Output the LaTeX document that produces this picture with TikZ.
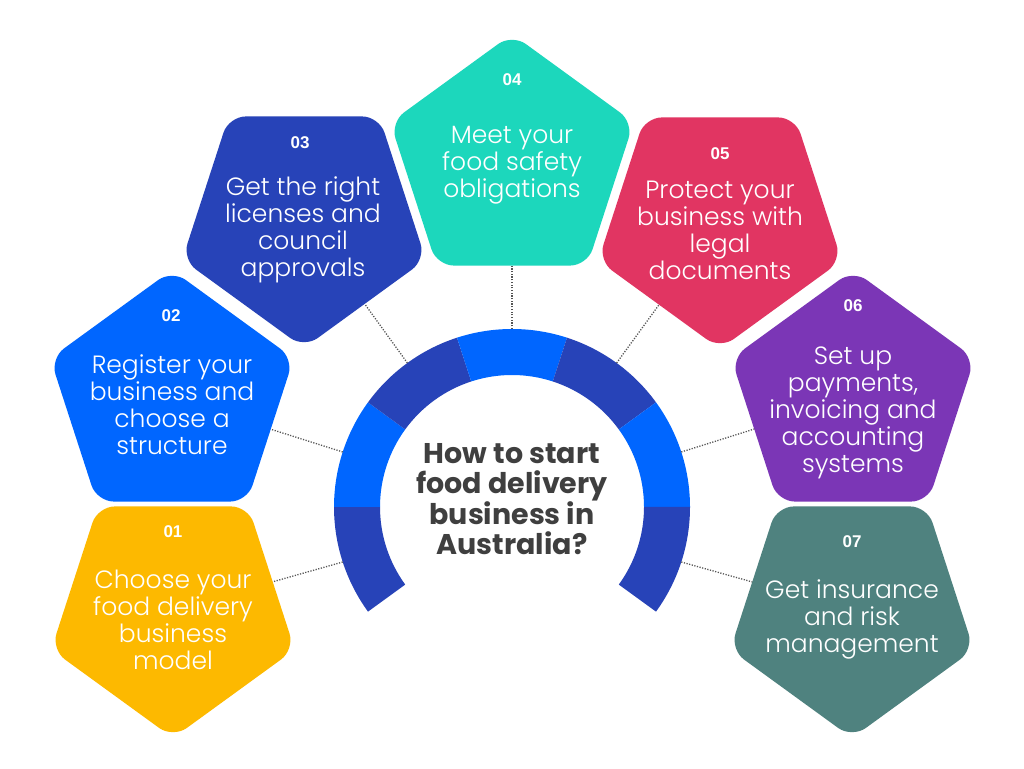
\documentclass[tikz,border=0pt]{standalone}
\usepackage{fontspec}
\setmainfont{Poppins}
\newfontfamily\lightfont{Poppins Light}
\newfontfamily\numfont{Liberation Sans}
\usetikzlibrary{shapes.geometric,calc}
\definecolor{cyel}{HTML}{FDB900}
\definecolor{cblue}{HTML}{0066FF}
\definecolor{cdark}{HTML}{2743B8}
\definecolor{cteal}{HTML}{1CD7BC}
\definecolor{cpink}{HTML}{E13562}
\definecolor{cpurp}{HTML}{7B36B6}
\definecolor{cgrey}{HTML}{4F827F}
\definecolor{ctitle}{HTML}{3F3F3F}
\definecolor{cdot}{HTML}{555555}
\begin{document}
\begin{tikzpicture}[x=1pt,y=1pt,
  pent/.style={regular polygon, regular polygon sides=5, minimum size=256pt,
    inner sep=0pt, outer sep=0pt, rounded corners=17pt, fill=#1},
  inv/.style={shape border rotate=180},
  body/.style={text=white, align=center, font=\lightfont\fontsize{25}{27}\selectfont},
  num/.style={text=white, font=\numfont\bfseries\fontsize{17}{20}\selectfont},
  titletext/.style={text=ctitle, align=center, font=\bfseries\fontsize{28.5}{30.5}\selectfont},
  dotline/.style={draw=cdot, line width=1.3pt, dash pattern=on 1.2pt off 1.5pt}
]
\useasboundingbox (0,0) rectangle (1024,768);
\fill[white] (0,0) rectangle (1024,768);

% pentagons
\node[pent=cyel, inv] (p1) at (173,158) {};
\node[pent=cblue] (p2) at (172,370) {};
\node[pent=cdark, inv] (p3) at (304,548) {};
\node[pent=cteal] (p4) at (512,606) {};
\node[pent=cpink, inv] (p5) at (720,547) {};
\node[pent=cpurp] (p6) at (853,370) {};
\node[pent=cgrey, inv] (p7) at (852,158) {};

% ring
\begin{scope}[shift={(512,261)}]
\foreach \a/\c in {180/cdark,144/cblue,108/cdark,72/cblue,36/cdark,0/cblue,-36/cdark}{
  \pgfmathsetmacro{\b}{\a+36}
  \fill[\c] (\a:178) arc[start angle=\a, end angle=\b, radius=178]
    -- (\b:132) arc[start angle=\b, end angle=\a, radius=132] -- cycle;
}
\coordinate (c1) at (198:178);
\coordinate (c2) at (162:178);
\coordinate (c3) at (126:178);
\coordinate (c4) at (90:178);
\coordinate (c5) at (54:178);
\coordinate (c6) at (18:178);
\coordinate (c7) at (-18:178);
\end{scope}

% connectors
\draw[dotline] (c1) -- (p1);
\draw[dotline] (c2) -- (p2);
\draw[dotline] (c3) -- (p3);
\draw[dotline] (c4) -- (p4);
\draw[dotline] (c5) -- (p5);
\draw[dotline] (c6) -- (p6);
\draw[dotline] (c7) -- (p7);

% numbers
\node[num] (n1) at (173,236) {01};
\node[num] (n2) at (171,452) {02};
\node[num] (n3) at (300,625) {03};
\node[num] (n4) at (512,688) {04};
\node[num] (n5) at (720,614) {05};
\node[num] (n6) at (853,462) {06};
\node[num] (n7) at (852,226) {07};

% texts
\node[body] (t1) at (173,148) {Choose your\\food delivery\\business\\model};
\node[body] (t2) at (172,363) {Register your\\business and\\choose a\\structure};
\node[body] (t3) at (303,538) {Get the right\\licenses and\\council\\approvals};
\node[body] (t4) at (512,603) {Meet your\\food safety\\obligations};
\node[body] (t5) at (720,538) {Protect your\\business with\\legal\\documents};
\node[body] (t6) at (853,355) {Set up\\payments,\\invoicing and\\accounting\\systems};
\node[body] (t7) at (852,149) {Get insurance\\and risk\\management};

% title
\node[titletext] (title) at (512,269) {How to start\\food delivery\\business in\\Australia?};
\end{tikzpicture}
\end{document}
